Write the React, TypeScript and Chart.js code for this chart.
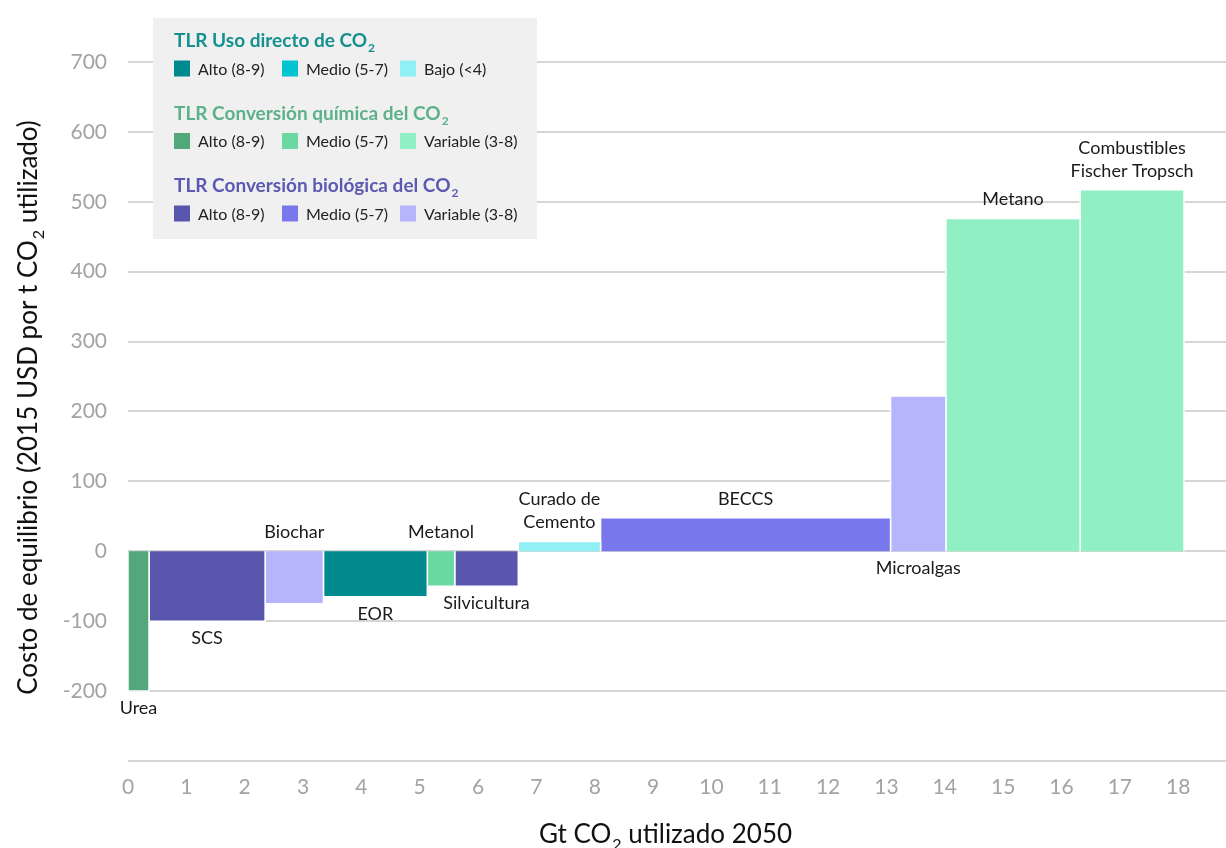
import React, { useEffect, useRef } from "react";
import { Chart, registerables } from "chart.js";

Chart.register(...registerables);

// ---------------- data ----------------
const technologies: string[][] = [
  ["Urea"],
  ["SCS"],
  ["Biochar"],
  ["EOR"],
  ["Metanol"],
  ["Silvicultura"],
  ["Curado de", "Cemento"],
  ["BECCS"],
  ["Microalgas"],
  ["Metano"],
  ["Combustibles", "Fischer Tropsch"],
];
// Gt CO2 used in 2050 (bar widths)
const volumesGt = [0.36, 1.99, 1.0, 1.78, 0.47, 1.09, 1.41, 4.97, 0.95, 2.3, 1.78];
// Break-even cost (2015 USD per t CO2 used)
const costsUsd = [-200, -100, -75, -65, -50, -50, 14, 48, 222, 476, 517];
const trlClasses = [
  "quimAlto",
  "bioAlto",
  "bioVariable",
  "directoAlto",
  "quimMedio",
  "bioAlto",
  "directoBajo",
  "bioMedio",
  "bioVariable",
  "quimVariable",
  "quimVariable",
];
const labelSides = ["below", "below", "above", "below", "above", "below", "above", "above", "below", "above", "above"];

// labelled y ticks (the -300 line is drawn without a label)
const yTickLabels = [-200, -100, 0, 100, 200, 300, 400, 500, 600, 700];

const legendTitles = ["TLR Uso directo de CO", "TLR Conversión química del CO", "TLR Conversión biológica del CO"];
const legendKeys = [
  ["directoAlto", "directoMedio", "directoBajo"],
  ["quimAlto", "quimMedio", "quimVariable"],
  ["bioAlto", "bioMedio", "bioVariable"],
];
const legendLabels = [
  ["Alto (8-9)", "Medio (5-7)", "Bajo (<4)"],
  ["Alto (8-9)", "Medio (5-7)", "Variable (3-8)"],
  ["Alto (8-9)", "Medio (5-7)", "Variable (3-8)"],
];

const yTitle = ["Costo de equilibrio (2015 USD por t CO", "2", " utilizado)"];
const xTitle = ["Gt CO", "2", " utilizado 2050"];

// ---------------- styles ----------------
const palette: Record<string, string> = {
  directoAlto: "#008a8d",
  directoMedio: "#00c4cf",
  directoBajo: "#8ff0f5",
  quimAlto: "#52a77b",
  quimMedio: "#6ad8a3",
  quimVariable: "#91f0c3",
  bioAlto: "#5957ad",
  bioMedio: "#7878ec",
  bioVariable: "#b5b5fc",
};
const titleColors = ["#14908f", "#5bb189", "#5b59b1"];
const FONT = "Lato, 'Noto Sans', sans-serif";

function drawSubText(
  ctx: CanvasRenderingContext2D,
  parts: string[],
  x: number,
  y: number,
  size: number,
  weight: string,
  align: "left" | "center"
) {
  const subSize = Math.round(size * 0.62);
  ctx.font = `${weight} ${size}px ${FONT}`;
  const w1 = ctx.measureText(parts[0]).width;
  const w3 = ctx.measureText(parts[2]).width;
  ctx.font = `${weight} ${subSize}px ${FONT}`;
  const w2 = ctx.measureText(parts[1]).width;
  const total = w1 + w2 + w3;
  const sx = align === "center" ? x - total / 2 : x;
  ctx.textAlign = "left";
  ctx.textBaseline = "alphabetic";
  ctx.font = `${weight} ${size}px ${FONT}`;
  ctx.fillText(parts[0], sx, y);
  ctx.font = `${weight} ${subSize}px ${FONT}`;
  ctx.fillText(parts[1], sx + w1 + 1, y + size * 0.28);
  ctx.font = `${weight} ${size}px ${FONT}`;
  ctx.fillText(parts[2], sx + w1 + w2 + 1, y);
}

const overlayPlugin = {
  id: "overlay",
  afterDraw(chart: any) {
    const ctx: CanvasRenderingContext2D = chart.ctx;
    const xs = chart.scales.x;
    const ys = chart.scales.y;
    ctx.save();

    // bar labels
    let start = 0;
    ctx.font = `18px ${FONT}`;
    ctx.fillStyle = "#1a1a1a";
    ctx.textAlign = "center";
    ctx.textBaseline = "middle";
    volumesGt.forEach((v, i) => {
      const xc = xs.getPixelForValue(start + v / 2);
      start += v;
      const top = ys.getPixelForValue(Math.max(0, costsUsd[i]));
      const bottom = ys.getPixelForValue(Math.min(0, costsUsd[i]));
      const lines = technologies[i];
      lines.forEach((line, j) => {
        const cy =
          labelSides[i] === "above"
            ? top - 19 - (lines.length - 1 - j) * 23
            : bottom + 17 + j * 23;
        ctx.fillText(line, xc, cy);
      });
    });

    // legend box
    ctx.fillStyle = "#f0f0f0";
    ctx.fillRect(153, 18, 384, 221);
    const titleBase = [46.5, 119.5, 192];
    const rowCenter = [68.5, 141, 213.5];
    const swX = [174, 282, 400];
    legendTitles.forEach((t, g) => {
      ctx.fillStyle = titleColors[g];
      drawSubText(ctx, [t, "2", ""], 174, titleBase[g], 19, "bold", "left");
      legendKeys[g].forEach((k, j) => {
        ctx.fillStyle = palette[k];
        ctx.fillRect(swX[j], rowCenter[g] - 8, 16, 16);
        ctx.fillStyle = "#222222";
        ctx.font = `16px ${FONT}`;
        ctx.textAlign = "left";
        ctx.textBaseline = "middle";
        ctx.fillText(legendLabels[g][j], swX[j] + 24, rowCenter[g] + 1);
      });
    });

    // axis titles
    ctx.fillStyle = "#111111";
    ctx.save();
    ctx.translate(37, 408);
    ctx.rotate(-Math.PI / 2);
    drawSubText(ctx, yTitle, 0, 0, 26, "normal", "center");
    ctx.restore();
    drawSubText(ctx, xTitle, 665, 843, 26, "normal", "center");

    ctx.restore();
  },
};

export default function App() {
  const canvasRef = useRef<HTMLCanvasElement | null>(null);

  useEffect(() => {
    if (!canvasRef.current) return;
    let start = 0;
    const datasets = volumesGt.map((v, i) => {
      const x0 = start;
      const x1 = start + v;
      start = x1;
      return {
        label: technologies[i].join(" "),
        data: [
          { x: x0, y: 0 },
          { x: x0, y: costsUsd[i] },
          { x: x1, y: costsUsd[i] },
          { x: x1, y: 0 },
        ],
        showLine: true,
        fill: "origin",
        backgroundColor: palette[trlClasses[i]],
        borderColor: "#ffffff",
        borderWidth: 1.5,
        pointRadius: 0,
        pointHoverRadius: 0,
        tension: 0,
      };
    });

    const tickFont = { family: FONT, size: 21 };
    const chart = new Chart(canvasRef.current, {
      type: "scatter",
      data: { datasets } as any,
      options: {
        animation: false,
        responsive: false,
        maintainAspectRatio: false,
        layout: { padding: { top: 6, left: 0, right: 0, bottom: 0 } },
        plugins: {
          legend: { display: false },
          tooltip: { enabled: false },
        },
        scales: {
          x: {
            type: "linear",
            min: 0,
            max: 18.82,
            grid: { display: false },
            border: { display: false },
            ticks: {
              stepSize: 1,
              includeBounds: false,
              autoSkip: false,
              maxRotation: 0,
              padding: 6,
              color: "#a3a3a3",
              font: tickFont,
              callback: (v: any) => (Number.isInteger(v) ? String(v) : ""),
            },
            afterFit: (s: any) => {
              s.height = 87;
              s.paddingLeft = 0;
              s.paddingRight = 0;
            },
          },
          y: {
            type: "linear",
            min: -300,
            max: 780,
            grid: { color: "#d6d6d6", lineWidth: 2, drawTicks: false },
            border: { display: false },
            ticks: {
              stepSize: 100,
              includeBounds: false,
              padding: 21,
              color: "#a3a3a3",
              font: tickFont,
              callback: (v: any) => (yTickLabels.includes(v) ? String(v) : ""),
            },
            afterFit: (s: any) => {
              s.width = 128;
              s.paddingTop = 0;
              s.paddingBottom = 0;
            },
          },
        },
      } as any,
      plugins: [overlayPlugin],
    });
    return () => chart.destroy();
  }, []);

  return (
    <div style={{ position: "absolute", left: 0, top: 0, width: 1226, height: 848, background: "#ffffff" }}>
      <canvas ref={canvasRef} width={1226} height={848} style={{ display: "block" }} />
    </div>
  );
}
